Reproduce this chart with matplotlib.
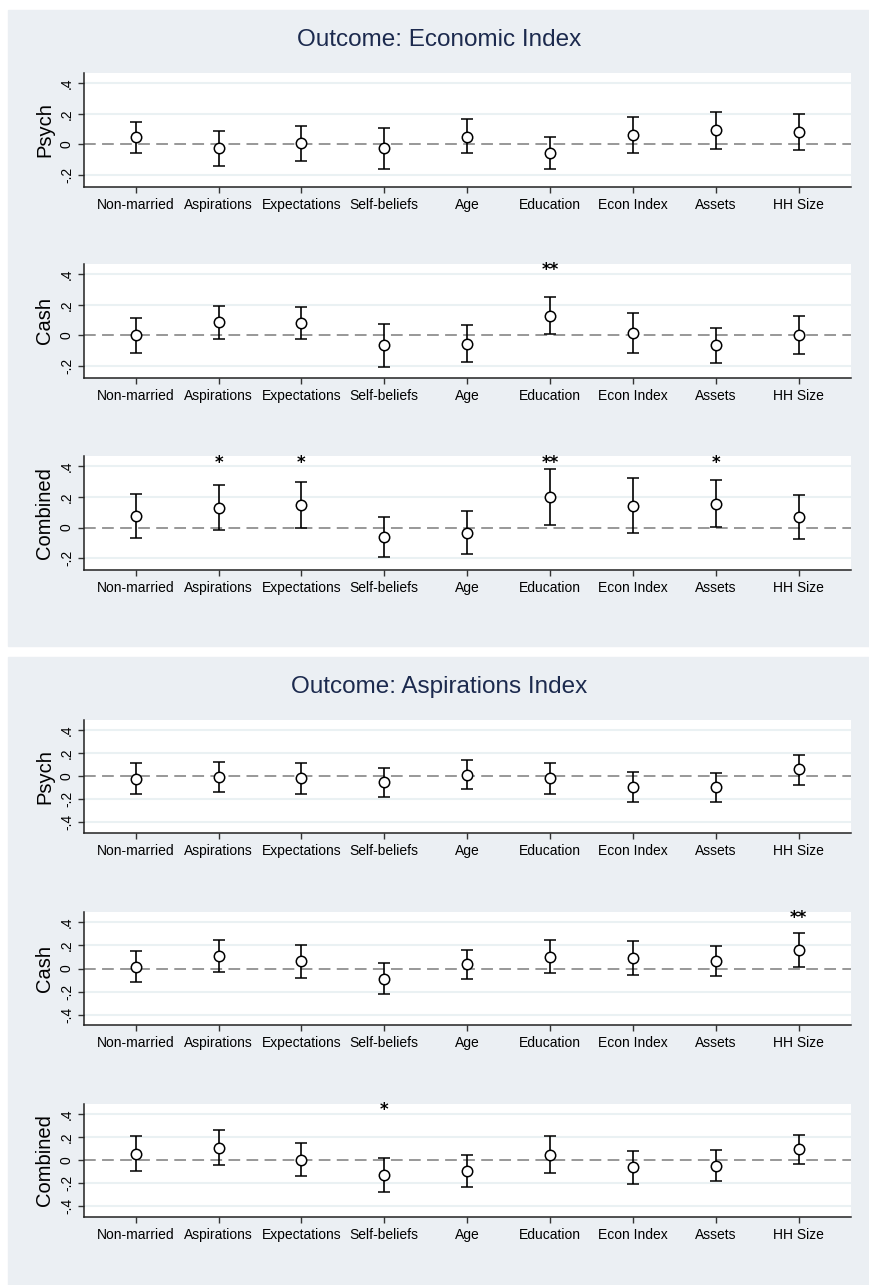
import matplotlib
matplotlib.use("Agg")
import matplotlib.pyplot as plt
from matplotlib import font_manager
from matplotlib.patches import Rectangle
import numpy as np

# ---------------------------------------------------------------
# coefficients and 95% CI bounds, one list per outcome / treatment arm
labels = ["Non-married", "Aspirations", "Expectations", "Self-beliefs", "Age",
          "Education", "Econ Index", "Assets", "HH Size"]

# Outcome: Economic Index
econ_psych_b  = [0.050, -0.026, 0.007, -0.026, 0.050, -0.057, 0.061, 0.093, 0.078]
econ_psych_lo = [-0.055, -0.140, -0.110, -0.160, -0.058, -0.160, -0.060, -0.029, -0.037]
econ_psych_hi = [0.148, 0.085, 0.120, 0.106, 0.163, 0.050, 0.176, 0.210, 0.198]

econ_cash_b  = [0.004, 0.084, 0.079, -0.066, -0.055, 0.127, 0.018, -0.064, 0.002]
econ_cash_lo = [-0.114, -0.026, -0.022, -0.209, -0.176, 0.007, -0.114, -0.182, -0.123]
econ_cash_hi = [0.114, 0.193, 0.182, 0.075, 0.066, 0.248, 0.149, 0.050, 0.127]

econ_comb_b  = [0.076, 0.130, 0.146, -0.061, -0.033, 0.200, 0.141, 0.157, 0.070]
econ_comb_lo = [-0.065, -0.013, -0.004, -0.190, -0.170, 0.017, -0.033, 0.002, -0.076]
econ_comb_hi = [0.222, 0.276, 0.298, 0.070, 0.109, 0.380, 0.322, 0.309, 0.215]

# Outcome: Aspirations Index
asp_psych_b  = [-0.020, -0.006, -0.017, -0.052, 0.014, -0.017, -0.090, -0.096, 0.061]
asp_psych_lo = [-0.154, -0.136, -0.151, -0.180, -0.113, -0.151, -0.220, -0.223, -0.072]
asp_psych_hi = [0.116, 0.125, 0.116, 0.075, 0.139, 0.116, 0.038, 0.032, 0.188]

asp_cash_b  = [0.014, 0.110, 0.061, -0.087, 0.035, 0.099, 0.087, 0.067, 0.159]
asp_cash_lo = [-0.116, -0.029, -0.081, -0.217, -0.093, -0.038, -0.058, -0.064, 0.017]
asp_cash_hi = [0.154, 0.249, 0.203, 0.049, 0.162, 0.243, 0.235, 0.197, 0.304]

asp_comb_b  = [0.055, 0.107, 0.006, -0.130, -0.093, 0.049, -0.061, -0.046, 0.099]
asp_comb_lo = [-0.096, -0.043, -0.139, -0.278, -0.232, -0.110, -0.206, -0.180, -0.029]
asp_comb_hi = [0.206, 0.261, 0.148, 0.017, 0.043, 0.212, 0.081, 0.087, 0.217]

# significance stars
econ_psych_stars = ["", "", "", "", "", "", "", "", ""]
econ_cash_stars  = ["", "", "", "", "", "**", "", "", ""]
econ_comb_stars  = ["", "*", "*", "", "", "**", "", "*", ""]
asp_psych_stars  = ["", "", "", "", "", "", "", "", ""]
asp_cash_stars   = ["", "", "", "", "", "", "", "", "**"]
asp_comb_stars   = ["", "", "", "*", "", "", "", "", ""]

# ---------------------------------------------------------------
installed = {f.name for f in font_manager.fontManager.ttflist}
narrow = "Liberation Sans Narrow" if "Liberation Sans Narrow" in installed else "Liberation Sans"
plt.rcParams['font.family'] = ['Liberation Sans', 'DejaVu Sans']

BG = '#ebeff3'
GRID = '#eaf1f3'
NAVY = '#1c2a4e'

fig = plt.figure(figsize=(8.70, 12.85), dpi=100)
W, H = 870.0, 1285.0

# grey graph regions (behind the axes)
fig.patches.append(Rectangle((8 / W, 1 - 646 / H), 862 / W, 636 / H,
                             transform=fig.transFigure, color=BG, zorder=-10))
fig.patches.append(Rectangle((8 / W, 0), 862 / W, 1 - 657 / H,
                             transform=fig.transFigure, color=BG, zorder=-10))

fig.text(439 / W, 1 - 40 / H, "Outcome: Economic Index", ha='center', va='center',
         fontsize=17.5, color=NAVY, family=narrow)
fig.text(439 / W, 1 - 687 / H, "Outcome: Aspirations Index", ha='center', va='center',
         fontsize=17.5, color=NAVY, family=narrow)

x = np.arange(1, len(labels) + 1)


def coef_panel(bottom_px, height_px, b, lo, hi, stars, name, ylim, yticks, yticklabels, star_y):
    ax = fig.add_axes([83.7 / W, 1 - bottom_px / H, 767 / W, height_px / H])
    ax.set_facecolor('white')
    b, lo, hi = np.array(b), np.array(lo), np.array(hi)
    for t in yticks:
        if t != 0:
            ax.axhline(t, color=GRID, lw=1.5, zorder=1)
    ax.axhline(0, color='#909090', lw=1.3, dashes=(6.5, 3.5), zorder=2)
    ax.errorbar(x, b, yerr=[b - lo, hi - b], fmt='o', ms=7.5, mfc='white', mec='black',
                mew=1.1, ecolor='black', elinewidth=1.2, capsize=4.5, capthick=1.2, zorder=3)
    for xi, s in zip(x, stars):
        if s:
            ax.text(xi, star_y, s, ha='center', va='center', fontsize=12, color='black',
                    fontweight='bold', family='DejaVu Sans')
    ax.set_xlim(0.373, 9.627)
    ax.set_ylim(*ylim)
    ax.set_xticks(x)
    ax.set_xticklabels(labels, fontsize=10, family=narrow)
    ax.set_yticks(yticks)
    ax.set_yticklabels(yticklabels, fontsize=10, rotation=90, va='center')
    ax.tick_params(axis='both', length=4, width=1.0, color='#333333', pad=3)
    ax.tick_params(axis='x', pad=4)
    for side in ('top', 'right'):
        ax.spines[side].set_visible(False)
    for side in ('left', 'bottom'):
        ax.spines[side].set_linewidth(1.1)
        ax.spines[side].set_color('#222222')
    ax.set_ylabel(name, fontsize=14.5, labelpad=4)
    return ax


lim1 = (-0.277, 0.468)
t1 = [-0.2, 0, 0.2, 0.4]
tl1 = ["-.2", "0", ".2", ".4"]
coef_panel(186.7, 114, econ_psych_b, econ_psych_lo, econ_psych_hi, econ_psych_stars,
           "Psych", lim1, t1, tl1, 0.424)
coef_panel(377.7, 114, econ_cash_b, econ_cash_lo, econ_cash_hi, econ_cash_stars,
           "Cash", lim1, t1, tl1, 0.424)
coef_panel(570.0, 114, econ_comb_b, econ_comb_lo, econ_comb_hi, econ_comb_stars,
           "Combined", lim1, t1, tl1, 0.424)

lim2 = (-0.49, 0.49)
t2 = [-0.4, -0.2, 0, 0.2, 0.4]
tl2 = ["-.4", "-.2", "0", ".2", ".4"]
coef_panel(832.7, 113, asp_psych_b, asp_psych_lo, asp_psych_hi, asp_psych_stars,
           "Psych", lim2, t2, tl2, 0.435)
coef_panel(1025.0, 113, asp_cash_b, asp_cash_lo, asp_cash_hi, asp_cash_stars,
           "Cash", lim2, t2, tl2, 0.435)
coef_panel(1216.7, 113, asp_comb_b, asp_comb_lo, asp_comb_hi, asp_comb_stars,
           "Combined", lim2, t2, tl2, 0.435)

fig.savefig("out.png", dpi=100, facecolor='white')
